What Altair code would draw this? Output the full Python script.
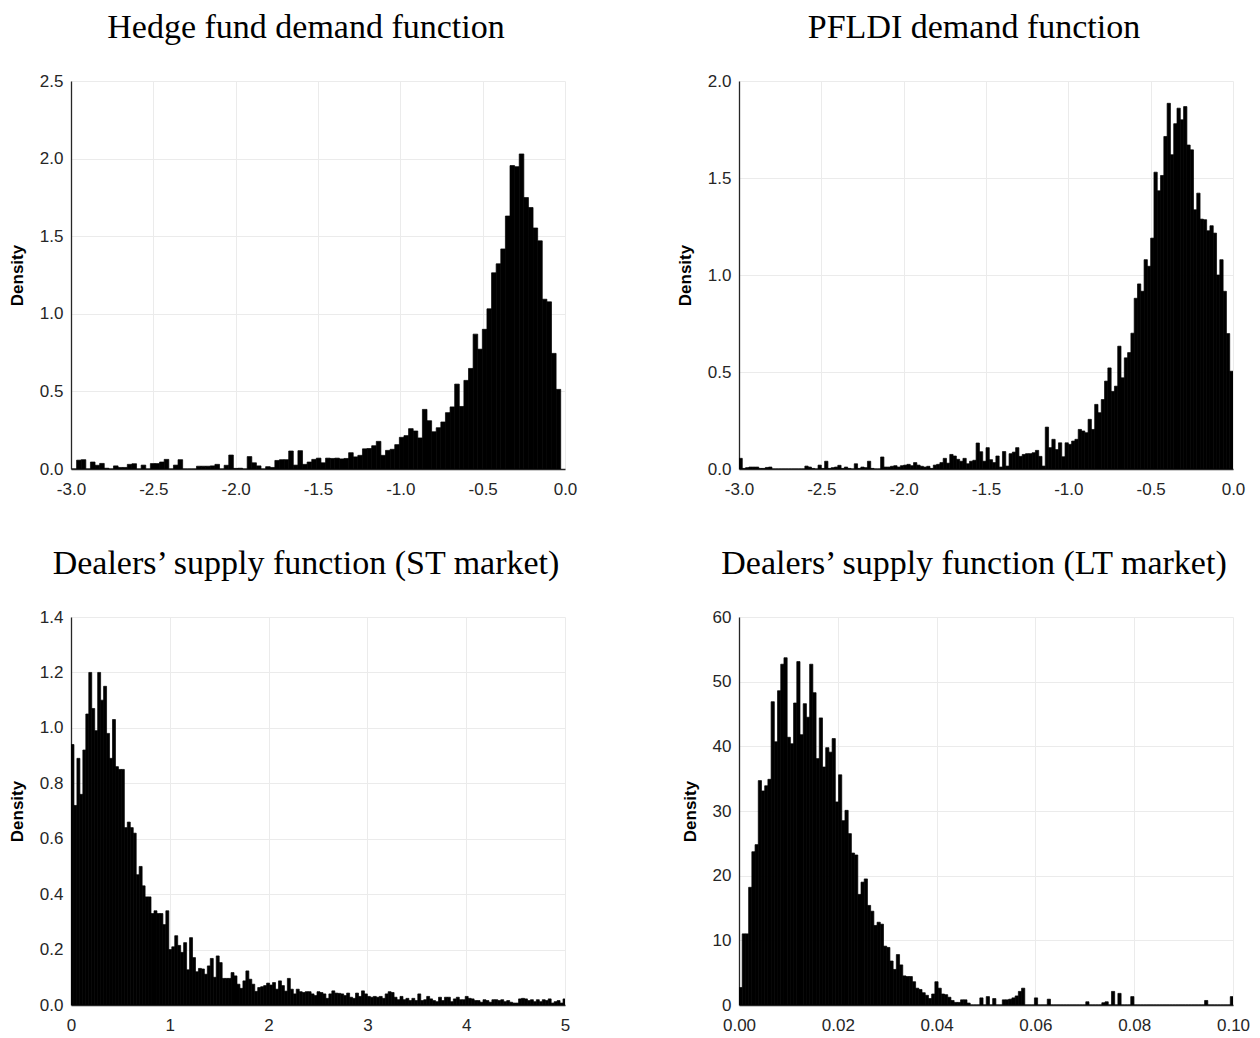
import altair as alt
import numpy as np
import pandas as pd

# density per bin (bins run left to right)
hf_start, hf_width = -2.994, 0.028
hf_density = [
    0, 0.057, 0.06, 0, 0.045, 0.024, 0.036, 0.005, 0, 0.02,
    0.01, 0.01, 0.03, 0.034, 0, 0.025, 0, 0.035, 0.035, 0.045,
    0.062, 0, 0.025, 0.06, 0, 0, 0, 0.018, 0.018, 0.018,
    0.02, 0.03, 0, 0.024, 0.09, 0.004, 0.005, 0, 0.08, 0.04,
    0.02, 0, 0.015, 0.01, 0.055, 0.06, 0.06, 0.116, 0.025, 0.118,
    0.03, 0.045, 0.062, 0.07, 0.04, 0.07, 0.068, 0.07, 0.065, 0.068,
    0.105, 0.078, 0.088, 0.13, 0.132, 0.15, 0.178, 0.088, 0.12, 0.127,
    0.157, 0.204, 0.215, 0.26, 0.245, 0.2, 0.384, 0.311, 0.24, 0.266,
    0.303, 0.363, 0.4, 0.547, 0.403, 0.571, 0.648, 0.869, 0.772, 0.9,
    1.032, 1.264, 1.322, 1.418, 1.63, 1.955, 1.948, 2.03, 1.749, 1.685,
    1.553, 1.47, 1.094, 1.077, 0.745, 0.513,
]

pf_start, pf_width = -3.0, 0.02
pf_density = [
    0.055, 0.003, 0.007, 0.01, 0.01, 0.01, 0.003, 0.003, 0.008, 0.01,
    0, 0, 0, 0, 0, 0, 0, 0, 0, 0,
    0.015, 0.01, 0.003, 0, 0.02, 0.003, 0.04, 0.003, 0.007, 0.01,
    0.019, 0.003, 0.01, 0.003, 0, 0.027, 0.003, 0.01, 0.007, 0.04,
    0.003, 0, 0, 0.062, 0.01, 0.01, 0.014, 0.017, 0.01, 0.017,
    0.02, 0.024, 0.017, 0.033, 0.02, 0.014, 0.01, 0.014, 0.003, 0.02,
    0.024, 0.033, 0.055, 0.03, 0.075, 0.067, 0.05, 0.04, 0.055, 0.027,
    0.04, 0.045, 0.134, 0.089, 0.04, 0.11, 0.048, 0.033, 0.067, 0.01,
    0.09, 0.015, 0.079, 0.087, 0.11, 0.065, 0.075, 0.079, 0.079, 0.084,
    0.096, 0.065, 0.015, 0.216, 0.11, 0.153, 0.10, 0.135, 0.063, 0.135,
    0.127, 0.144, 0.153, 0.204, 0.196, 0.187, 0.256, 0.204, 0.333, 0.29,
    0.358, 0.453, 0.521, 0.40, 0.427, 0.633, 0.47, 0.573, 0.60, 0.70,
    0.88, 0.954, 0.916, 1.079, 1.045, 1.19, 1.53, 1.434, 1.513, 1.714,
    1.885, 1.62, 1.78, 1.86, 1.80, 1.868, 1.67, 1.645, 1.336, 1.422,
    1.288, 1.285, 1.228, 1.254, 1.216, 1.0, 1.079, 0.916, 0.698, 0.504,
]

st_start, st_width = 0.0, 0.03
st_density = [
    0.94, 0.72, 0.89, 0.76, 0.92, 1.05, 1.20, 1.07, 0.99, 1.20,
    1.10, 1.15, 0.98, 0.89, 1.03, 0.86, 0.85, 0.85, 0.64, 0.66,
    0.64, 0.62, 0.47, 0.50, 0.43, 0.39, 0.39, 0.33, 0.34, 0.33,
    0.33, 0.29, 0.34, 0.20, 0.21, 0.25, 0.215, 0.19, 0.225, 0.127,
    0.243, 0.171, 0.12, 0.132, 0.13, 0.111, 0.141, 0.168, 0.10, 0.177,
    0.153, 0.096, 0.096, 0.096, 0.117, 0.105, 0.075, 0.06, 0.087, 0.123,
    0.093, 0.075, 0.049, 0.063, 0.066, 0.07, 0.079, 0.072, 0.081, 0.057,
    0.087, 0.07, 0.05, 0.096, 0.057, 0.04, 0.057, 0.048, 0.045, 0.048,
    0.048, 0.04, 0.034, 0.048, 0.045, 0.04, 0.024, 0.04, 0.051, 0.043,
    0.042, 0.04, 0.034, 0.043, 0.028, 0.024, 0.043, 0.031, 0.051, 0.04,
    0.031, 0.028, 0.031, 0.028, 0.031, 0.024, 0.04, 0.048, 0.045, 0.028,
    0.019, 0.031, 0.019, 0.024, 0.016, 0.024, 0.016, 0.04, 0.016, 0.019,
    0.031, 0.022, 0.016, 0.012, 0.028, 0.016, 0.028, 0.028, 0.012, 0.022,
    0.028, 0.019, 0.019, 0.031, 0.024, 0.022, 0.016, 0.016, 0.01, 0.019,
    0.016, 0.01, 0.019, 0.019, 0.016, 0.019, 0.012, 0.016, 0.01, 0.007,
    0.007, 0.022, 0.024, 0.022, 0.016, 0.019, 0.012, 0.019, 0.012, 0.019,
    0.016, 0.022, 0.007, 0.012, 0.016, 0.007, 0.022,
]

lt_start, lt_width = 0.0, 0.00065
lt_density = [
    2.7, 11.0, 11.0, 18.2, 23.7, 24.8, 34.7, 33.1, 33.9, 34.9,
    46.9, 40.7, 48.6, 52.7, 53.7, 41.4, 40.4, 46.7, 53.1, 41.8,
    46.6, 44.5, 52.7, 48.3, 38.1, 44.4, 36.8, 39.8, 39.1, 41.2,
    31.4, 35.6, 28.5, 30.1, 26.5, 23.5, 23.2, 17.1, 19.0, 19.5,
    15.4, 14.5, 12.3, 12.8, 12.5, 9.1, 8.9, 6.8, 5.5, 7.8,
    6.2, 4.5, 4.4, 4.4, 3.6, 2.6, 2.4, 1.9, 1.5, 1.0,
    1.7, 3.6, 2.6, 1.7, 1.6, 1.2, 0.7, 0.4, 0.4, 0.8,
    0.8, 0.3, 0, 0, 0, 1.1, 0, 1.3, 0, 1.0,
    0, 0, 0.8, 0.8, 0.9, 1.1, 1.4, 2.1, 2.6, 0,
    0, 0, 1.1, 0, 0, 0, 0.9, 0, 0, 0,
    0, 0, 0, 0, 0, 0, 0, 0, 0.5, 0,
    0, 0, 0, 0.35, 0.5, 0, 2.1, 0, 1.8, 0,
    0, 0, 1.3, 0, 0, 0, 0, 0, 0, 0,
    0, 0, 0, 0, 0, 0, 0, 0, 0, 0,
    0, 0, 0, 0, 0, 0.7, 0, 0, 0, 0,
    0, 0, 0, 1.3,
]

titles = [
    "Hedge fund demand function",
    "PFLDI demand function",
    "Dealers\u2019 supply function (ST market)",
    "Dealers\u2019 supply function (LT market)",
]

W, H = 494, 388
MINUS = "\u2212"


def hist_panel(values, start, width, title, xdom, xticks, xfmt, ydom, yticks, yfmt):
    n = len(values)
    left = start + width * np.arange(n)
    df = pd.DataFrame({"left": left, "right": left + width, "density": values})
    xlab = "replace(format(datum.value, '%s'), '%s', '-')" % (xfmt, MINUS)
    return alt.Chart(df).mark_rect(
        color="black", stroke="black", strokeWidth=0.7, clip=True
    ).encode(
        x=alt.X("left:Q",
                scale=alt.Scale(domain=xdom, nice=False, zero=False),
                axis=alt.Axis(values=xticks, labelExpr=xlab, title=None,
                              labelPadding=12, labelFlush=False)),
        x2="right:Q",
        y=alt.Y("density:Q",
                scale=alt.Scale(domain=ydom, nice=False),
                axis=alt.Axis(values=yticks, format=yfmt, title="Density",
                              labelPadding=8, titlePadding=13)),
        y2=alt.datum(0),
    ).properties(
        width=W, height=H,
        title=alt.Title(title, font="Liberation Serif", fontSize=34,
                        fontWeight="normal", color="black", anchor="middle",
                        frame="group", baseline="alphabetic", offset=0, dx=-12),
    )


p1 = hist_panel(hf_density, hf_start, hf_width, titles[0],
                [-3, 0], [-3, -2.5, -2, -1.5, -1, -0.5, 0], ".1f",
                [0, 2.5], [0, 0.5, 1, 1.5, 2, 2.5], ".1f")
p2 = hist_panel(pf_density, pf_start, pf_width, titles[1],
                [-3, 0], [-3, -2.5, -2, -1.5, -1, -0.5, 0], ".1f",
                [0, 2], [0, 0.5, 1, 1.5, 2], ".1f")
p3 = hist_panel(st_density, st_start, st_width, titles[2],
                [0, 5], [0, 1, 2, 3, 4, 5], "d",
                [0, 1.4], [0, 0.2, 0.4, 0.6, 0.8, 1.0, 1.2, 1.4], ".1f")
p4 = hist_panel(lt_density, lt_start, lt_width, titles[3],
                [0, 0.1], [0, 0.02, 0.04, 0.06, 0.08, 0.1], ".2f",
                [0, 60], [0, 10, 20, 30, 40, 50, 60], "d")

chart = alt.concat(p1, p2, p3, p4, columns=2, spacing={"row": 50, "column": 99}).properties(
    padding={"left": 0, "top": 3, "right": 0, "bottom": 0}
).configure_view(
    stroke=None
).configure_axis(
    labelFont="Liberation Sans", labelFontSize=17, labelColor="#262626",
    titleFont="Liberation Sans", titleFontSize=17, titleFontWeight="bold",
    titleColor="black", domainColor="#262626", domainWidth=1.3, ticks=False,
    gridColor="#ebebeb", gridWidth=1,
)

chart.save("out.html", embed_options={"renderer": "svg", "actions": False})
